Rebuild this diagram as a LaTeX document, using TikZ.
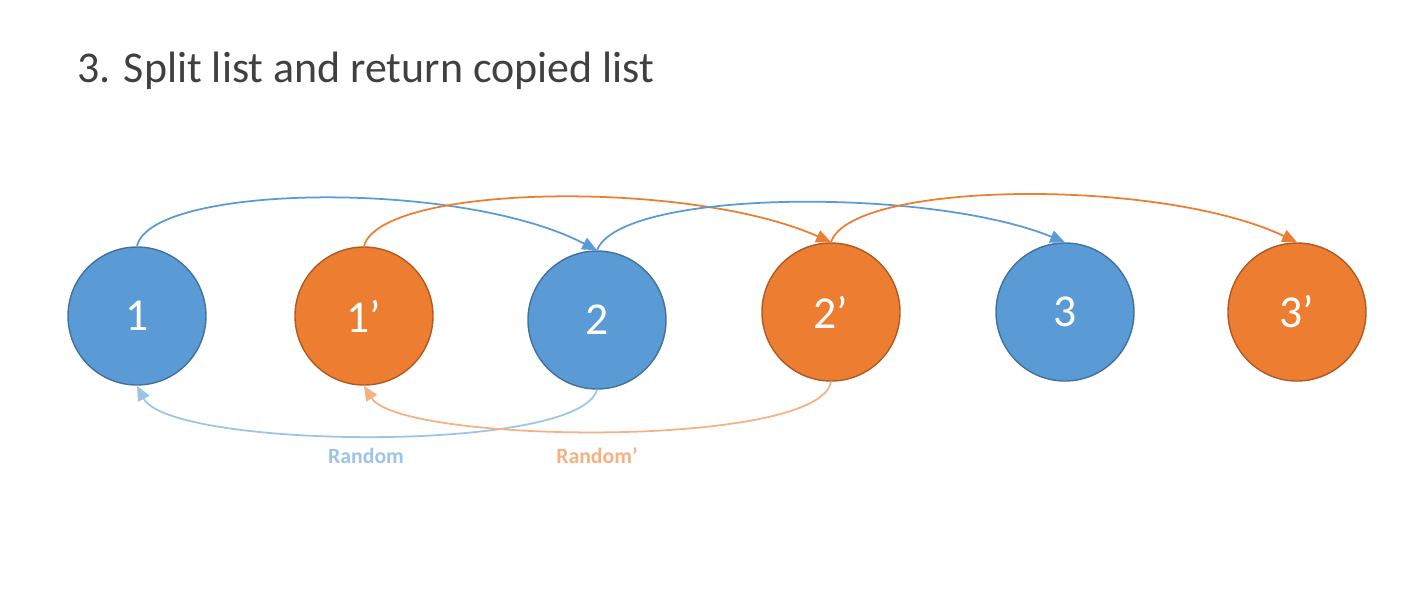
\documentclass[tikz,border=0pt]{standalone}
\usepackage{fontspec}
\setmainfont{Carlito}
\usepackage{xcolor}
\usetikzlibrary{positioning, arrows.meta}
\definecolor{node-blue}{HTML}{5B9BD5}
\definecolor{edge-blue}{HTML}{41719C}
\definecolor{node-orange}{HTML}{ED7D31}
\definecolor{edge-orange}{HTML}{AE5A21}
\definecolor{rand-blue}{HTML}{9DC3E6}
\definecolor{rand-orange}{HTML}{F4B183}
\definecolor{title-gray}{HTML}{404040}

\begin{document}
\begin{tikzpicture}[
    orig/.style={circle, draw=edge-blue, fill=node-blue, minimum size=1.38cm, inner sep=0pt,
        text=white, font=\fontsize{13}{15}\selectfont},
    copy/.style={orig, draw=edge-orange, fill=node-orange},
    nextlink/.style={line width=0.5pt, -{Triangle[width=3.6pt, length=4.2pt]}},
    randlink/.style={line width=0.5pt, -{Triangle[width=3.6pt, length=4.2pt]}},
    randlabel/.style={font=\fontsize{6.2}{7}\selectfont\bfseries},
]
    \useasboundingbox (0,0) rectangle (14.22,5.99);

    % Title
    \node[anchor=base west, text=title-gray, font=\fontsize{12.5}{15}\selectfont] (title)
        at (0.65,5.17) {3. Split list and return copied list};

    % Nodes
    \node[orig] (n1)  at (1.37,2.83)  {1};
    \node[copy] (n1p) at (3.64,2.83)  {1’};
    \node[orig] (n2)  at (5.97,2.79)  {2};
    \node[copy] (n2p) at (8.31,2.87)  {2’};
    \node[orig] (n3)  at (10.65,2.87) {3};
    \node[copy] (n3p) at (12.97,2.87) {3’};

    % Next pointers
    \draw[nextlink, node-blue] (n1.north) .. controls (1.5,4.15) and (4.6,4.2) .. (n2.north);
    \draw[nextlink, node-orange] (n1p.north) .. controls (3.8,4.15) and (6.9,4.2) .. (n2p.north);
    \draw[nextlink, node-blue] (n2.north) .. controls (6.2,4.1) and (9.3,4.12) .. (n3.north);
    \draw[nextlink, node-orange] (n2p.north) .. controls (8.5,4.18) and (11.6,4.22) .. (n3p.north);

    % Random pointers
    \draw[randlink, rand-blue] (n2.south) .. controls (5.8,1.45) and (1.7,1.5) .. (n1.south);
    \draw[randlink, rand-orange] (n2p.south) .. controls (8.2,1.5) and (4.0,1.55) .. (n1p.south);

    \node[randlabel, text=rand-blue] (rlab) at (3.66,1.43) {Random};
    \node[randlabel, text=rand-orange] (rplab) at (5.97,1.43) {Random’};

\end{tikzpicture}
\end{document}
